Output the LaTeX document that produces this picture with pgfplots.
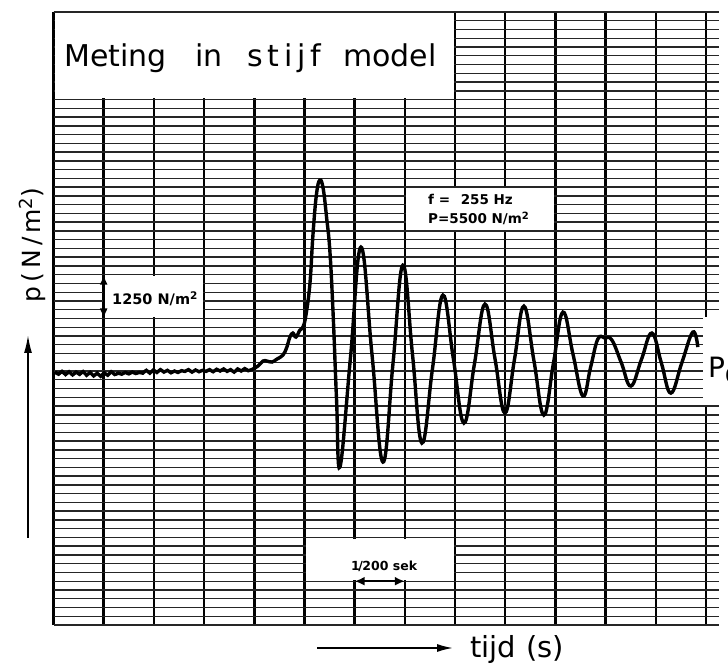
\documentclass[border=0pt]{standalone}
\usepackage{pgfplots}
\pgfplotsset{compat=1.18}
\usepackage{fontspec}
\setmainfont{DejaVu Sans}
\newfontfamily\spaced{DejaVu Sans}[LetterSpace=16]
\usetikzlibrary{arrows.meta}

\begin{document}
\begin{tikzpicture}
\useasboundingbox (0,0) rectangle (728bp,664bp);
\begin{axis}[
  at={(53.5bp,39bp)}, anchor=south west,
  width=665.5bp, height=613bp, scale only axis,
  xmin=0, xmax=66.3, ymin=-7200, ymax=10300,
  xtick={0,5,...,65},
  % every ruling of the paper, 250 N/m^2 apart
  ytick={-7200,-6950,-6700,-6450,-6200,-5950,-5700,-5450,-5200,-4950,
         -4700,-4450,-4200,-3950,-3700,-3450,-3200,-2950,-2700,-2450,
         -2200,-1950,-1700,-1450,-1200,-950,-700,-450,-200,50,
         300,550,800,1050,1300,1550,1800,2050,2300,2550,
         2800,3050,3300,3550,3800,4050,4300,4550,4800,5050,
         5300,5550,5800,6050,6300,6550,6800,7050,7300,7550,
         7800,8050,8300,8550,8800,9050,9300,9550,9800,10050,10300},
  % every fifth ruling is heavier
  extra y ticks={-7200,-5950,-4700,-3450,-2200,-950,300,1550,2800,4050,5300,6550,7800,9050,10300},
  extra y tick labels={},
  extra y tick style={grid=major, major grid style={black, line width=2.3bp}},
  xticklabels={}, yticklabels={},
  major tick length=0pt, minor tick length=0pt,
  tick style={draw=none},
  axis line style={draw=none},
  grid=major,
  major x grid style={black, line width=2.5bp},
  major y grid style={black!85, line width=1.4bp},
]
% white label panels on the recording paper
\fill[white] (axis cs:0.15,7835) rectangle (axis cs:39.85,10265);
\fill[white] (axis cs:35.15,4085) rectangle (axis cs:49.85,5265);
\fill[white] (axis cs:5.15,1585) rectangle (axis cs:14.85,2765);
\fill[white] (axis cs:25.15,-5915) rectangle (axis cs:39.85,-4735);
% scale markers: 1250 N/m^2 and 1/200 s
\draw[{Latex[length=10bp,width=8bp]}-{Latex[length=10bp,width=8bp]}, line width=2bp]
  (axis cs:5,1550) -- (axis cs:5,2800);
\draw[{Latex[length=10bp,width=9bp]}-{Latex[length=10bp,width=9bp]}, line width=2bp]
  (axis cs:30,-5950) -- (axis cs:35,-5950);
% pressure trace, p - p0 in N/m^2 against time in ms
\addplot[black, line width=3.4bp, smooth, tension=0.7] coordinates {
 (0.15,30) (0.5,-40) (0.85,40) (1.2,-50) (1.55,30) (1.9,-60) (2.25,20) (2.6,-45)
 (2.95,35) (3.3,-70) (3.65,10) (4.0,-90) (4.35,-10) (4.7,-100) (5.05,0) (5.4,-70)
 (5.75,30) (6.1,-50) (6.45,-10) (6.8,-40) (7.15,10) (7.5,-30) (7.85,20) (8.2,-20)
 (8.55,10) (8.9,-10) (9.25,70) (9.6,-10) (9.95,80) (10.3,10) (10.65,90) (11.0,20)
 (11.35,70) (11.7,0) (12.05,50) (12.4,10) (12.75,60) (13.1,40) (13.45,90) (13.8,20)
 (14.15,80) (14.5,30) (14.85,70) (15.2,40) (15.55,90) (15.9,30) (16.25,100) (16.6,50)
 (16.95,110) (17.3,40) (17.65,90) (18.0,20) (18.35,110) (18.7,50) (19.05,120) (19.4,60)
 (19.75,90)
 (20.37,192) (20.87,335) (21.27,335) (21.76,307) (22.26,392) (22.86,506)
 (23.25,734) (23.55,1020) (23.85,1134) (24.15,1020) (24.55,1220) (24.85,1305)
 (25.15,1650) (25.55,2560) (25.85,3950) (26.2,5100) (26.54,5500) (26.87,5250)
 (27.2,4450) (27.54,3450) (27.87,1590) (28.2,-780) (28.54,-2690)
 (29.59,450) (30.63,3588) (31.73,520) (32.82,-2548) (33.82,263) (34.81,3074)
 (35.76,534) (36.70,-2006) (37.75,106) (38.79,2218) (39.84,392) (40.89,-1435)
 (41.94,263) (42.98,1961) (43.98,406) (44.97,-1150) (45.92,377) (46.86,1904)
 (47.86,349) (48.85,-1207) (49.80,263) (50.75,1733) (51.75,535) (52.74,-664)
 (53.5,150) (54.23,963) (54.93,991) (55.63,934) (56.58,278) (57.52,-379)
 (58.57,378) (59.61,1134) (60.56,278) (61.50,-579) (62.6,292) (63.69,1162)
 (64.19,734)
};
\end{axis}
\begin{scope}[x=1bp,y=1bp]
  % torn paper edge where the p0 level is marked
  \fill[white] (703,259) rectangle (728,347);
  \node[anchor=base west, inner sep=0pt] at (708,287) {\fontsize{28bp}{30bp}\selectfont P\raisebox{-5bp}{\fontsize{19bp}{20bp}\selectfont 0}};
  % title
  \begin{scope}[every node/.style={anchor=base west, inner sep=0pt, font=\fontsize{30bp}{34bp}\selectfont}]
    \node at (64,597) {Meting};
    \node at (195,597) {in};
    \node at (247,597) {\spaced stijf};
    \node at (343,597) {model};
  \end{scope}
  % panel texts
  \begin{scope}[every node/.style={anchor=base west, inner sep=0pt, font=\bfseries\fontsize{13.5bp}{15bp}\selectfont}]
    \node at (428,459) {f =\hspace{6bp} 255 Hz};
    \node at (428,440) {P=5500 N/m\raisebox{4.5bp}{\fontsize{10bp}{10bp}\selectfont 2}};
  \end{scope}
  \node[anchor=base west, inner sep=0pt, font=\bfseries\fontsize{14.5bp}{16bp}\selectfont] at (112,360) {1250 N/m\raisebox{5bp}{\fontsize{10.5bp}{11bp}\selectfont 2}};
  \node[anchor=base west, inner sep=0pt, font=\bfseries\fontsize{12.5bp}{14bp}\selectfont] at (351,94) {1\kern-1.5bp/\kern-0.5bp200 sek};
  % axis captions
  \node[anchor=base, rotate=90, inner sep=0pt, font=\spaced\fontsize{25bp}{27bp}\selectfont] at (40.5,419) {p(N/m\raisebox{8bp}{\fontsize{18bp}{18bp}\selectfont 2})};
  \draw[-{Latex[length=18bp,width=8bp]}, line width=1.7bp] (28,126) -- (28,329);
  \draw[-{Latex[length=16bp,width=8bp]}, line width=1.7bp] (317,16) -- (453,16);
  \node[anchor=base west, inner sep=0pt, font=\fontsize{29bp}{31bp}\selectfont] at (470,7) {tijd\hspace{10bp}(s)};
\end{scope}
\end{tikzpicture}
\end{document}
